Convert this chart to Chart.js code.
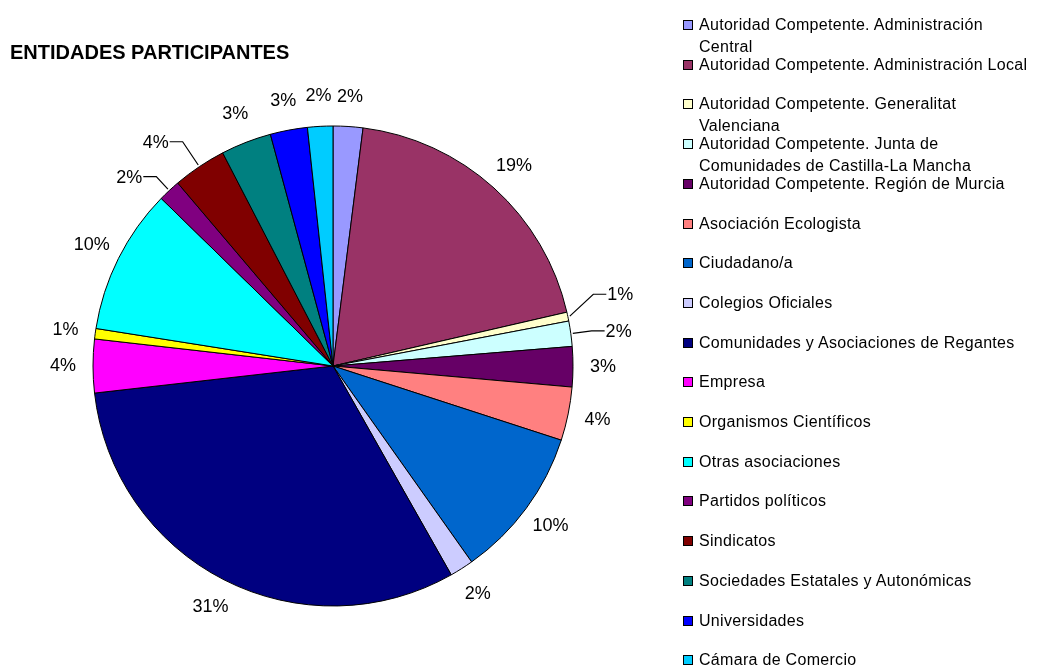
<!DOCTYPE html>
<html>
<head>
    <meta charset="UTF-8">
    <title>Entidades participantes</title>
    <style>
        body { margin: 0; background: #fff; font-family: "Liberation Sans", Arial, sans-serif; }
        #wrap { position: relative; width: 1039px; height: 666px; overflow: hidden; }
        #chart { position: absolute; left: 0; top: 0; }
        #title { position: absolute; left: 10px; top: 41px; font-size: 20px; font-weight: bold; color: #000; }
        .leg { position: absolute; left: 683px; font-size: 16px; line-height: 22px; color: #000; letter-spacing: 0.3px; }
        .leg .box { position: absolute; left: 0; top: 6px; width: 8px; height: 8px; border: 1px solid #000; }
        .leg .txt { margin-left: 16px; white-space: nowrap; }
    </style>
</head>
<body>
<div id="wrap">
    <canvas id="chart" width="1039" height="666"></canvas>
    <div id="title">ENTIDADES PARTICIPANTES</div>
    <div id="legend"></div>
</div>
<script src="https://cdn.jsdelivr.net/npm/chart.js"></script>
<script>
    // categorias (con el salto de linea que usa la leyenda)
    var categorias = [
        ["Autoridad Competente. Administración", "Central"],
        ["Autoridad Competente. Administración Local"],
        ["Autoridad Competente. Generalitat", "Valenciana"],
        ["Autoridad Competente. Junta de", "Comunidades de Castilla-La Mancha"],
        ["Autoridad Competente. Región de Murcia"],
        ["Asociación Ecologista"],
        ["Ciudadano/a"],
        ["Colegios Oficiales"],
        ["Comunidades y Asociaciones de Regantes"],
        ["Empresa"],
        ["Organismos Científicos"],
        ["Otras asociaciones"],
        ["Partidos políticos"],
        ["Sindicatos"],
        ["Sociedades Estatales y Autonómicas"],
        ["Universidades"],
        ["Cámara de Comercio"]
    ];
    // porcentaje de cada entidad
    var valores = [2.0, 19.4, 0.6, 1.7, 2.7, 3.6, 10.2, 1.6, 31.4, 3.6, 0.7, 9.8, 1.5, 3.6, 3.4, 2.5, 1.7];
    var colores = ["#9999FF", "#993366", "#FFFFCC", "#CCFFFF", "#660066", "#FF8080", "#0066CC", "#CCCCFF",
        "#000080", "#FF00FF", "#FFFF00", "#00FFFF", "#800080", "#800000", "#008080", "#0000FF", "#00CCFF"];

    // leyenda estilo Excel
    var legend = document.getElementById("legend");
    categorias.forEach(function (lineas, i) {
        var item = document.createElement("div");
        item.className = "leg";
        item.style.top = (25 + i * 39.7 - 11) + "px";
        var box = document.createElement("div");
        box.className = "box";
        box.style.background = colores[i];
        var txt = document.createElement("div");
        txt.className = "txt";
        txt.innerHTML = lineas.join("<br>");
        item.appendChild(box);
        item.appendChild(txt);
        legend.appendChild(item);
    });

    // etiquetas de porcentaje fuera del pastel, con lineas guia en algunas
    var etiquetas = {
        id: "etiquetas",
        afterDatasetsDraw: function (chart, args, opts) {
            var ctx = chart.ctx;
            var meta = chart.getDatasetMeta(0);
            var data = chart.data.datasets[0].data;
            var total = data.reduce(function (a, b) { return a + b; }, 0);
            ctx.save();
            ctx.font = opts.font;
            ctx.fillStyle = "#000";
            ctx.strokeStyle = "#000";
            ctx.lineWidth = 1.2;
            meta.data.forEach(function (arc, i) {
                var p = arc.getProps(["x", "y", "startAngle", "endAngle", "outerRadius"], true);
                var mid = (p.startAngle + p.endAngle) / 2;
                var c = Math.cos(mid), s = Math.sin(mid);
                var txt = Math.round(data[i] / total * 100) + "%";
                var g = opts.guias[i];
                ctx.textBaseline = "middle";
                if (g) {
                    var sx = p.x + c * (p.outerRadius + 2), sy = p.y + s * (p.outerRadius + 2);
                    var ex = p.x + c * (p.outerRadius + g.r), ey = p.y + s * (p.outerRadius + g.r) + (g.dy || 0);
                    var dir = c >= 0 ? 1 : -1;
                    ctx.beginPath();
                    ctx.moveTo(sx, sy);
                    ctx.lineTo(ex, ey);
                    ctx.lineTo(ex + dir * 13, ey);
                    ctx.stroke();
                    ctx.textAlign = dir > 0 ? "left" : "right";
                    ctx.fillText(txt, ex + dir * 14, ey + 1);
                } else {
                    var d = p.outerRadius + opts.offset;
                    ctx.textAlign = "center";
                    ctx.fillText(txt, p.x + c * d, p.y + s * d);
                }
            });
            ctx.restore();
        }
    };

    var ctx = document.getElementById("chart").getContext("2d");
    var pie = new Chart(ctx, {
        type: "pie",
        data: {
            labels: categorias,
            datasets: [{
                data: valores,
                backgroundColor: colores,
                borderColor: "#000",
                borderWidth: 1
            }]
        },
        options: {
            responsive: false,
            animation: false,
            radius: 240,
            layout: { padding: { left: 60, right: 433, top: 90, bottom: 24 } },
            plugins: {
                legend: { display: false },
                tooltip: { enabled: false },
                etiquetas: {
                    font: "18px 'Liberation Sans', Arial, sans-serif",
                    offset: 30,
                    guias: {
                        2: { r: 26, dy: -17 },
                        3: { r: 21 },
                        12: { r: 19 },
                        13: { r: 30 }
                    }
                }
            }
        },
        plugins: [etiquetas]
    });
</script>
</body>
</html>
